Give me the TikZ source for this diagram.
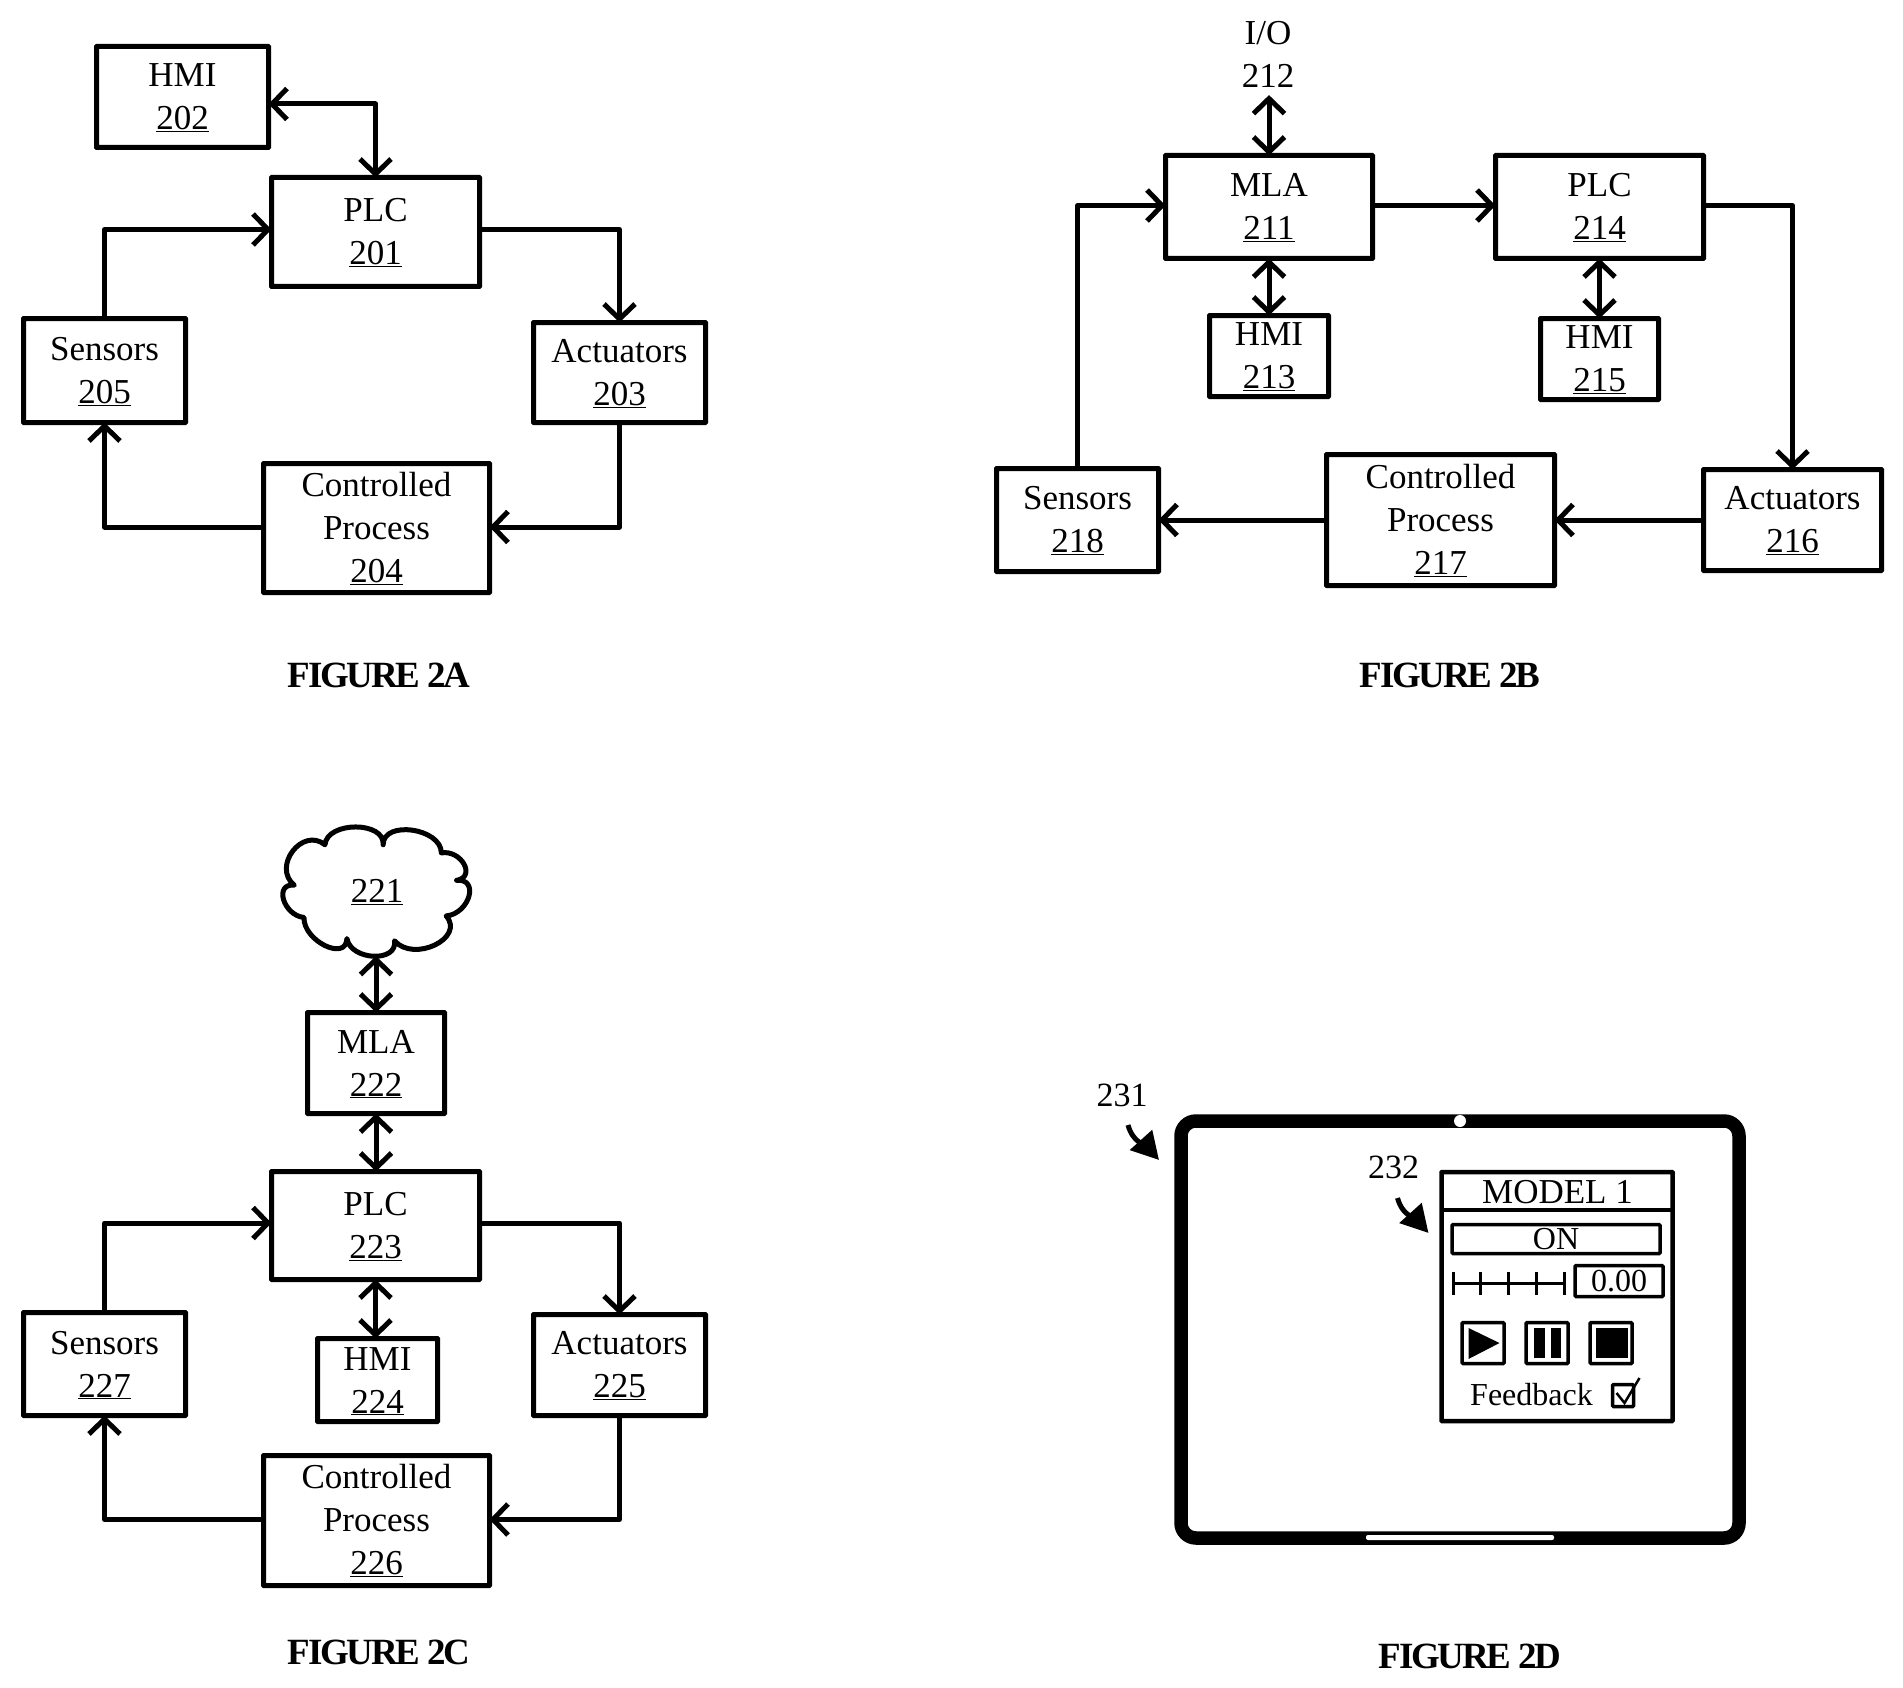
\documentclass[tikz,border=0pt]{standalone}
\usepackage{fontspec}
\setmainfont{Liberation Serif}
\newfontfamily\capfont[LetterSpace=-6]{Liberation Serif}
\usetikzlibrary{arrows.meta,calc}
\tikzset{
  box/.style={draw=black,line width=5pt,rounded corners=0.5pt,inner sep=0pt,outer sep=0pt,align=center,
    font=\fontsize{35}{43}\selectfont},
  conn/.style={draw=black,line width=5pt,line join=round,-{Straight Barb[length=15pt,width=31pt,line width=5pt]}},
  bconn/.style={draw=black,line width=5pt,line join=round,{Straight Barb[length=15pt,width=31pt,line width=5pt]}-{Straight Barb[length=15pt,width=31pt,line width=5pt]}},
  lbl/.style={inner sep=0pt,align=center,font=\fontsize{35}{43}\selectfont},
  smalllbl/.style={inner sep=0pt,align=center,font=\fontsize{34}{40}\selectfont},
  figcap/.style={inner sep=0pt,font=\fontsize{37}{40}\capfont\bfseries},
  pointer/.style={draw=black,line width=5pt,-{Triangle[length=27pt,width=29pt]}},
  uibox/.style={draw=black,line width=3.5pt,rounded corners=1pt,inner sep=0pt,outer sep=0pt},
}
\newcommand{\bx}[6]{\node[box,minimum width={#4-#2-3},minimum height={#5-#3-3}] (#1) at ({(#2+#4)/2},{(#3+#5)/2}) {\rule{0pt}{25pt}#6};}
\newcommand{\uibx}[6]{\node[uibox,minimum width={#4-#2-3},minimum height={#5-#3-3},font=\fontsize{32}{40}\selectfont] (#1) at ({(#2+#4)/2},{(#3+#5)/2}) {#6};}
\newcommand{\ulnum}[1]{\underline{#1}}
\newcommand{\bump}[3]{.. controls ($0.3333*(#1)-0.6667*(#3)+1.3333*(#2)$) and ($0.3333*(#3)-0.6667*(#1)+1.3333*(#2)$) .. (#3)}
\begin{document}
\begin{tikzpicture}[x=1pt,y=-1pt]
\useasboundingbox (0,0) rectangle (1903,1688);
\fill[white] (0,0) rectangle (1903,1688);

% ---------- FIGURE 2A
\bx{hmiA}{95}{45}{270}{149}{HMI\\\ulnum{202}}
\bx{plcA}{270}{176}{481}{288}{PLC\\\ulnum{201}}
\bx{senA}{22}{317}{187}{424}{Sensors\\\ulnum{205}}
\bx{actA}{532}{321}{707}{424}{Actuators\\\ulnum{203}}
\bx{cpA}{262}{462}{491}{594}{Controlled\\Process\\\ulnum{204}}
\draw[bconn] ([yshift=-7pt]hmiA.east) -| (plcA.north);
\draw[conn] ([yshift=2.5pt]plcA.east) -| (actA.north);
\draw[conn] (actA.south) |- ([yshift=1pt]cpA.east);
\draw[conn] ([yshift=1pt]cpA.west) -| (senA.south);
\draw[conn] (senA.north) |- ([yshift=2.5pt]plcA.west);
\node[figcap] (capA) at (379,675) {FIGURE 2A};

% ---------- FIGURE 2B
\node[lbl,outer ysep=8pt] (io) at (1268,54) {I/O\\212};
\bx{mlaB}{1164}{154}{1374}{260}{MLA\\\ulnum{211}}
\bx{plcB}{1494}{154}{1705}{260}{PLC\\\ulnum{214}}
\bx{hmiB}{1208}{314}{1330}{398}{HMI\\\ulnum{213}}
\bx{hmiC}{1539}{317}{1660}{401}{HMI\\\ulnum{215}}
\bx{actB}{1702}{468}{1883}{572}{Actuators\\\ulnum{216}}
\bx{cpB}{1325}{453}{1556}{587}{Controlled\\Process\\\ulnum{217}}
\bx{senB}{995}{467}{1160}{573}{Sensors\\\ulnum{218}}
\draw[bconn] (io.south -| mlaB.north) -- (mlaB.north);
\draw[bconn] (mlaB.south) -- (mlaB.south |- hmiB.north);
\draw[bconn] (plcB.south) -- (plcB.south |- hmiC.north);
\draw[conn] ([yshift=1.5pt]mlaB.east) -- ([yshift=1.5pt]plcB.west);
\draw[conn] ([yshift=1.5pt]plcB.east) -| (actB.north);
\draw[conn] (actB.west) -- (cpB.east);
\draw[conn] (cpB.west) -- (senB.east);
\draw[conn] (senB.north) |- ([yshift=1.5pt]mlaB.west);
\node[figcap] (capB) at (1450,675) {FIGURE 2B};

% ---------- FIGURE 2C
\node[lbl] (cloudC) at (377,892) {\ulnum{221}};
\coordinate (cBot) at (376,956);
\begin{scope}[shift={(378,892)},scale=.97,shift={(-378,-892)}]
\coordinate (cA) at (323.3,843.3);
\coordinate (cB) at (383.3,843.3);
\coordinate (cC) at (443.3,851.7);
\coordinate (cD) at (459,880);
\coordinate (cE) at (448.3,916.7);
\coordinate (cF) at (395,942.3);
\coordinate (cG) at (346,940);
\coordinate (cH) at (301.7,918.3);
\coordinate (cI) at (291.7,885);
\draw[line width=5pt,line join=round]
  (cA) \bump{cA}{355,825}{cB} \bump{cB}{413.3,828.3}{cC} \bump{cC}{466.7,863.3}{cD}
  \bump{cD}{471.7,896.7}{cE} \bump{cE}{436.7,946.7}{cF} \bump{cF}{373.3,958.3}{cG}
  \bump{cG}{323.3,947.3}{cH} \bump{cH}{280.7,900}{cI} \bump{cI}{290,850}{cA} -- cycle;
\end{scope}
\bx{mlaC}{306}{1011}{446}{1115}{MLA\\\ulnum{222}}
\bx{plcC}{270}{1170}{481}{1281}{PLC\\\ulnum{223}}
\bx{hmiD}{316}{1337}{439}{1423}{HMI\\\ulnum{224}}
\bx{senC}{22}{1311}{187}{1417}{Sensors\\\ulnum{227}}
\bx{actC}{532}{1313}{707}{1417}{Actuators\\\ulnum{225}}
\bx{cpC}{262}{1454}{491}{1587}{Controlled\\Process\\\ulnum{226}}
\draw[bconn] (cBot) -- (cBot |- mlaC.north);
\draw[bconn] (mlaC.south) -- (mlaC.south |- plcC.north);
\draw[bconn] (plcC.south) -- (plcC.south |- hmiD.north);
\draw[conn] ([yshift=2.5pt]plcC.east) -| (actC.north);
\draw[conn] (actC.south) |- ([yshift=1pt]cpC.east);
\draw[conn] ([yshift=1pt]cpC.west) -| (senC.south);
\draw[conn] (senC.north) |- ([yshift=2.5pt]plcC.west);
\node[figcap] (capC) at (379,1652) {FIGURE 2C};

% ---------- FIGURE 2D
\draw[line width=13.5pt,rounded corners=15pt] (1181,1121) rectangle (1739,1538);
\fill[white] (1460,1121) circle (6);
\fill[white,rounded corners=2pt] (1366,1535) rectangle (1554,1540);
\node[smalllbl] (l231) at (1122,1095) {231};
\coordinate (a231s) at (1128,1125);
\coordinate (a231e) at (1159,1160);
\draw[pointer] (a231s) to[out=-75,in=132] (a231e);

\begin{scope}[xshift=-2.5pt]
\node[smalllbl] (l232) at (1396,1167) {232};
\coordinate (a232s) at (1400,1198);
\coordinate (a232e) at (1431,1233);
\draw[pointer] (a232s) to[out=-75,in=132] (a232e);

\draw[draw=black,line width=4.5pt,rounded corners=0.5pt] (1444,1172) rectangle (1675,1421);
\coordinate (divL) at (1444,1210);
\coordinate (divR) at (1675,1210);
\draw[line width=4.5pt] (divL) -- (divR);
\node[inner sep=0pt,font=\fontsize{35}{40}\selectfont] (model) at (1560,1192) {MODEL 1};
\uibx{on}{1453}{1223}{1664}{1255}{ON}
\uibx{val}{1576}{1264}{1667}{1298}{0.00}
% slider
\coordinate (sl0) at (1456,1283);
\coordinate (sl4) at (1567,1283);
\draw[line width=3pt] (sl0) -- (sl4);
\foreach \sx/\sn in {1456/0,1483/1,1511/2,1539/3,1567/4}{
  \coordinate (tickT\sn) at (\sx,1272);
  \coordinate (tickB\sn) at (\sx,1295);
  \draw[line width=2.5pt] (tickT\sn) -- (tickB\sn);
}
% buttons
\uibx{play}{1463}{1321}{1508}{1365}{}
\uibx{pause}{1527}{1321}{1572}{1365}{}
\uibx{stopb}{1591}{1321}{1636}{1365}{}
\fill (1471,1328) -- (1471,1359) -- (1502,1343) -- cycle;
\fill (1536,1328) rectangle (1547,1358);
\fill (1553,1328) rectangle (1563,1358);
\fill (1598,1328) rectangle (1630,1358);
\node[inner sep=0pt,font=\fontsize{32}{40}\selectfont] (fb) at (1534,1395) {Feedback};
\uibx{chk}{1613.5}{1383}{1637.5}{1408}{}
\coordinate (ck0) at (1619,1393);
\coordinate (ck1) at (1627,1403);
\coordinate (ck2) at (1642,1378);
\draw[line width=2.5pt] (ck0) -- (ck1) -- (ck2);
\end{scope}
\node[figcap] (capD) at (1470,1656) {FIGURE 2D};
\end{tikzpicture}
\end{document}
